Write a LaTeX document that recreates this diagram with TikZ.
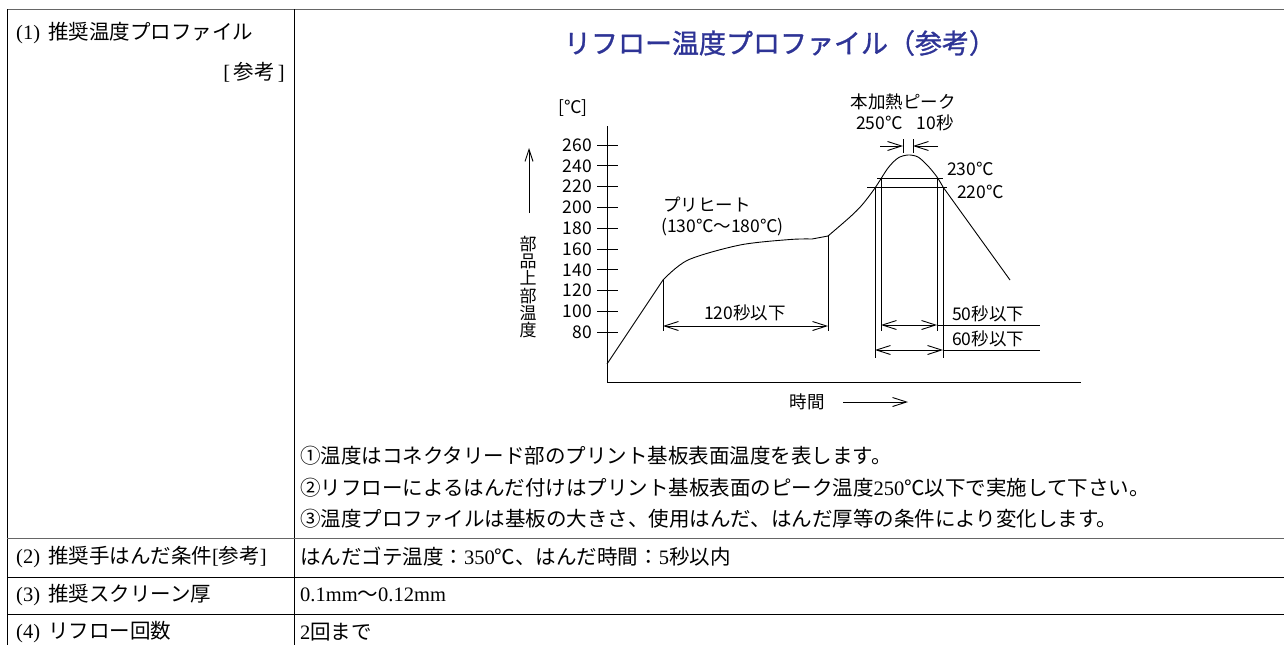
\documentclass[tikz,border=0pt]{standalone}
\usepackage{fontspec}
\setmainfont{Noto Sans CJK JP}
\newfontfamily\lserif{Liberation Serif}
\newfontfamily\titlefont{Noto Sans CJK JP}[FakeBold=1.2]
\usetikzlibrary{arrows.meta}
\definecolor{titleblue}{RGB}{46,52,150}
\tikzset{
  tbl/.style={line width=1pt, black},
  tblgray/.style={line width=1.6pt, black!60},
  chart/.style={line width=0.9pt, black},
  cell/.style={anchor=west, inner sep=0pt, font=\fontsize{20.5}{24}\selectfont},
  lbl/.style={inner sep=0pt, font=\fontsize{17.5}{20}\selectfont},
  dimline/.style={chart, {Straight Barb[length=14pt,width=9pt]}-{Straight Barb[length=14pt,width=9pt]}},
  barb/.style={chart, -{Straight Barb[length=14pt,width=9pt]}},
}
\begin{document}
\begin{tikzpicture}[x=1pt,y=-1pt]
\useasboundingbox (0,0) rectangle (1284,645);
% ---------- table ----------
\draw[tblgray] (7,9.5) -- (1284,9.5);
\draw[tbl] (7,9) -- (7,645);
\draw[tbl] (294,9) -- (294,645);
\draw[tblgray] (7,538.5) -- (1284,538.5);
\draw[tbl] (7,577) -- (1284,577);
\draw[tbl] (7,614) -- (1284,614);

\node[cell] (r1a) at (16,33) {{\lserif (1)}\hspace{8pt}推奨温度プロファイル};
\node[cell, anchor=east] (r1b) at (285,72) {{\lserif [}\,参考\,{\lserif ]}};
\node[cell] (r2) at (16,557) {{\lserif (2)}\hspace{8pt}推奨手はんだ条件{\lserif [}参考{\lserif ]}};
\node[cell] (r3) at (16,595) {{\lserif (3)}\hspace{8pt}推奨スクリーン厚};
\node[cell] (r4) at (16,632) {{\lserif (4)}\hspace{8pt}リフロー回数};

\node[cell] (n1) at (300,456) {①温度はコネクタリード部のプリント基板表面温度を表します。};
\node[cell] (n2) at (300,488) {②リフローによるはんだ付けはプリント基板表面のピーク温度{\lserif 250}℃以下で実施して下さい。};
\node[cell] (n3) at (300,519) {③温度プロファイルは基板の大きさ、使用はんだ、はんだ厚等の条件により変化します。};
\node[cell] (v2) at (300,557) {はんだゴテ温度：{\lserif 350}℃、はんだ時間：{\lserif 5}秒以内};
\node[cell] (v3) at (300,595) {{\lserif 0.1mm}～{\lserif 0.12mm}};
\node[cell] (v4) at (300,632) {{\lserif 2}回まで};

% ---------- title ----------
\node[font=\fontsize{27}{30}\titlefont, text=titleblue, inner sep=0pt] (title) at (780,43) {リフロー温度プロファイル（参考）};

% ---------- chart axes ----------
\coordinate (ytop) at (607,126);
\coordinate (O) at (607,382);
\coordinate (xend) at (1081,382);
\draw[chart] (ytop) -- (O) -- (xend);

\foreach \t [count=\i from 0] in {260,240,220,200,180,160,140,120,100,80} {
  \pgfmathsetmacro\yy{145+\i*20.8}
  \draw[chart] (597,\yy) -- (618,\yy);
  \node[lbl, anchor=east] (t\t) at (592,\yy) {\t};
}
\node[lbl] (unit) at (573,108) {[℃]};
\node[lbl, align=center, font=\fontsize{17}{17.3}\selectfont] (ylab) at (528,287) {部\\品\\上\\部\\温\\度};
\coordinate (ya0) at (529,213);
\coordinate (ya1) at (529,148);
\draw[chart, -{Straight Barb[length=12pt,width=8pt]}] (ya0) -- (ya1);

\node[lbl] (xlab) at (807,402) {時間};
\coordinate (xa0) at (843,402);
\coordinate (xa1) at (908,402);
\draw[barb] (xa0) -- (xa1);

% ---------- profile curve ----------
\coordinate (c0) at (607,364);
\coordinate (c1) at (663,280);
\coordinate (c2) at (812,239);
\coordinate (c3) at (828,236);
\coordinate (c4) at (943,187);
\coordinate (c5) at (1010,280);
\draw[chart] (c0) -- (c1)
  -- plot[smooth, tension=0.5] coordinates {(663,280) (688,260) (740,245) (790,239.5) (812,239)}
  -- (c3)
  -- plot[smooth, tension=0.5] coordinates {(828,236) (850,217) (862,205) (875,188) (888,168) (898,158) (908,155) (918,157) (928,166) (937,177) (943,187)}
  -- (c5);

% preheat
\node[lbl, anchor=west] (pre1) at (663,205) {プリヒート};
\node[lbl, anchor=west] (pre2) at (661,227) {(130℃～180℃)};
\draw[chart] (c1) -- (663,331);
\draw[chart] (c3) -- (828,331);
\draw[dimline] (663,326) -- (828,326);
\node[lbl] (d120) at (745,313) {120秒以下};

% peak
\node[lbl] (pk1) at (903,102) {本加熱ピーク};
\node[lbl] (pk2) at (905,123) {250℃\hspace{14pt}10秒};
\draw[chart] (903,139) -- (903,153);
\draw[chart] (913,139) -- (913,153);
\draw[barb] (880,146) -- (903,146);
\draw[barb] (938,146) -- (913,146);

\draw[chart] (877,178) -- (943,178);
\draw[chart] (867,187) -- (947,187);
\node[lbl, anchor=west] (l230) at (947,169) {230℃};
\node[lbl, anchor=west] (l220) at (957,192) {220℃};

\draw[chart] (881,178) -- (881,331);
\draw[chart] (937,178) -- (937,331);
\draw[chart] (875,187) -- (875,358);
\draw[chart] (943,187) -- (943,358);
\draw[dimline] (881,325) -- (937,325);
\draw[chart] (937,325) -- (1040,325);
\draw[dimline] (875,350) -- (943,350);
\draw[chart] (943,350) -- (1040,350);
\node[lbl, anchor=west] (d50) at (952,314) {50秒以下};
\node[lbl, anchor=west] (d60) at (952,339) {60秒以下};
\end{tikzpicture}
\end{document}
